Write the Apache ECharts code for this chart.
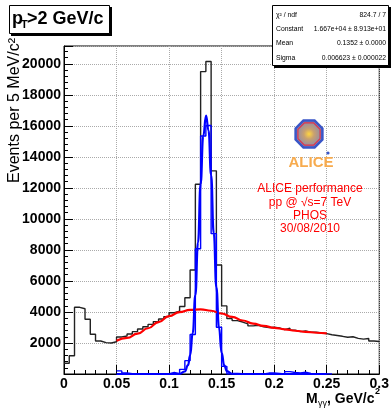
<!DOCTYPE html>
<html>
<head>
<meta charset="utf-8">
<script src="https://cdn.jsdelivr.net/npm/echarts@6/dist/echarts.min.js"></script>
<style>
  html, body { margin: 0; padding: 0; background: #fff; }
  #chart { width: 392px; height: 410px; }
</style>
</head>
<body>
<div id="chart"></div>
<script>
// histogram binning (GeV/c^2)
const binStart = 0
const binWidth = 0.005

// black: all pairs, 60 bins from 0 to 0.3
const dataCounts = [
  690, 1180, 4300, 4210, 3530, 2560, 2130, 2020, 2000, 2080,
  2390, 2450, 2580, 2730, 2900, 3050, 3200, 3380, 3550, 3700,
  3950, 4050, 4350, 4920, 6710, 12240, 19500, 20150, 13100, 7030,
  4390, 3570, 3440, 3350, 3230, 3100, 3140, 3050, 2990, 3010,
  2970, 2860, 2950, 2820, 2730, 2770, 2700, 2690, 2640, 2600,
  2530, 2480, 2430, 2370, 2400, 2300, 2250, 2290, 2130, 2100
]

// blue: background subtracted, bins 10..50
const signalFirstBin = 10
const signalCounts = [
  200, 70, 20, 0, 0, 0, 0, 0, 0, 0,
  110, 0, 300, 860, 2550, 8080, 15350, 16020, 9050, 3010,
  490, 0, 0, 0, 0, 0, 0, 0, 60, 60,
  40, 0, 150, 100, 70, 110, 40, 20, 0, 0,
  0
]

// red background fit curve
const bgX = [0.05, 0.06, 0.07, 0.08, 0.09, 0.10, 0.11, 0.12, 0.13, 0.14, 0.15,
             0.16, 0.17, 0.18, 0.19, 0.20, 0.21, 0.22, 0.23, 0.24, 0.25]
const bgY = [2150, 2330, 2600, 2950, 3350, 3730, 3990, 4140, 4170, 4080, 3900,
             3680, 3450, 3250, 3100, 2980, 2880, 2790, 2720, 2660, 2620]

// blue gaussian fit curve
const gausX = [0.05, 0.10, 0.11, 0.115, 0.118, 0.12, 0.1225, 0.125, 0.1275, 0.13, 0.1325,
               0.1352, 0.1375, 0.14, 0.1425, 0.145, 0.1475, 0.15, 0.1525, 0.155, 0.16, 0.17, 0.25]
const gausY = [0, 0, 12, 160, 570, 1200, 2650, 5090, 8480, 12250, 15340,
               16670, 15700, 12820, 9080, 5580, 2970, 1370, 550, 190, 15, 0, 0]

const fitStats = [
  ['\u03c7\u00b2 / ndf', '824.7 / 7'],
  ['Constant', '1.667e+04 \u00b1 8.913e+01'],
  ['Mean', '0.1352 \u00b1 0.0000'],
  ['Sigma', '0.006623 \u00b1 0.000022']
]
const infoLines = ['ALICE performance', 'pp @ \u221as=7 TeV', 'PHOS', '30/08/2010']

const FONT = '"Liberation Sans", Arial, Helvetica, sans-serif'

function histPoints(first, counts) {
  const pts = []
  counts.forEach((c, i) => {
    pts.push([binStart + (first + i) * binWidth, c])
  })
  // close the last bin
  pts.push([binStart + (first + counts.length) * binWidth, counts[counts.length - 1]])
  return pts
}

function zip(xs, ys) {
  return xs.map((x, i) => [x, ys[i]])
}

function octagon(cx, cy, r) {
  const pts = []
  for (let i = 0; i < 8; i++) {
    const a = Math.PI / 8 + i * Math.PI / 4
    pts.push([cx + r * Math.cos(a), cy + r * Math.sin(a)])
  }
  return pts
}

const statsGraphics = [
  {
    type: 'rect', z: 100,
    shape: { x: 274, y: 7, width: 117, height: 61 },
    style: { fill: '#000' }
  },
  {
    type: 'rect', z: 101,
    shape: { x: 272.5, y: 5.5, width: 116, height: 60 },
    style: { fill: '#fff', stroke: '#000', lineWidth: 1 }
  }
]
fitStats.forEach((row, i) => {
  const y = 15 + i * 14.3
  statsGraphics.push({
    type: 'text', z: 102, x: 276, y: y,
    style: { text: row[0], fill: '#000', fontSize: 6.8, fontFamily: FONT, align: 'left', verticalAlign: 'middle' }
  })
  statsGraphics.push({
    type: 'text', z: 102, x: 386, y: y,
    style: { text: row[1], fill: '#000', fontSize: 6.8, fontFamily: FONT, align: 'right', verticalAlign: 'middle' }
  })
})

const infoGraphics = infoLines.map((t, i) => ({
  type: 'text', z: 90, x: 310, y: 189 + i * 13.3,
  style: { text: t, fill: '#ff0000', fontSize: 12, fontFamily: FONT, align: 'center', verticalAlign: 'middle' }
}))

const logoGraphics = [
  {
    type: 'polygon', z: 90,
    shape: { points: octagon(309, 134, 14.5) },
    style: {
      fill: {
        type: 'radial', x: 0.5, y: 0.5, r: 0.5,
        colorStops: [
          { offset: 0, color: '#ffd640' },
          { offset: 0.35, color: '#c8a070' },
          { offset: 1, color: '#7f86b8' }
        ]
      },
      stroke: '#3a56c8', lineWidth: 2.5
    }
  },
  {
    type: 'polygon', z: 91,
    shape: { points: octagon(309, 134, 12) },
    style: { fill: 'none', stroke: '#e0304a', lineWidth: 1.2 }
  },
  {
    type: 'text', z: 90, x: 311, y: 163,
    style: { text: 'ALICE', fill: '#f7ab4e', fontSize: 15, fontWeight: 'bold', fontFamily: FONT, align: 'center', verticalAlign: 'middle' }
  },
  {
    type: 'circle', z: 90,
    shape: { cx: 328, cy: 153, r: 1.6 },
    style: { fill: '#3a56c8' }
  }
]

const titleGraphics = [
  {
    type: 'rect', z: 100,
    shape: { x: 11, y: 7, width: 101, height: 29 },
    style: { fill: '#000' }
  },
  {
    type: 'rect', z: 101,
    shape: { x: 9.5, y: 5.5, width: 100, height: 28 },
    style: { fill: '#fff', stroke: '#000', lineWidth: 1 }
  },
  {
    type: 'text', z: 102, x: 12, y: 19,
    style: { text: 'p', fill: '#000', fontSize: 18, fontWeight: 'bold', fontFamily: FONT, verticalAlign: 'middle' }
  },
  {
    type: 'text', z: 102, x: 21, y: 25,
    style: { text: 'T', fill: '#000', fontSize: 11, fontWeight: 'bold', fontFamily: FONT, verticalAlign: 'middle' }
  },
  {
    type: 'text', z: 102, x: 27, y: 19,
    style: { text: '>2 GeV/c', fill: '#000', fontSize: 18, fontWeight: 'bold', fontFamily: FONT, verticalAlign: 'middle' }
  }
]

const axisNameGraphics = [
  {
    type: 'text', z: 90, x: 15, y: 38, rotation: Math.PI / 2,
    style: { text: 'Events per 5 MeV/c\u00b2', fill: '#000', fontSize: 16, fontFamily: FONT, align: 'right', verticalAlign: 'middle' }
  },
  {
    type: 'text', z: 90, x: 306, y: 399,
    style: { text: 'M', fill: '#000', fontSize: 14, fontWeight: 'bold', fontFamily: FONT, verticalAlign: 'middle' }
  },
  {
    type: 'text', z: 90, x: 318, y: 404,
    style: { text: '\u03b3\u03b3', fill: '#000', fontSize: 9, fontFamily: FONT, verticalAlign: 'middle' }
  },
  {
    type: 'text', z: 90, x: 327, y: 399,
    style: { text: ', GeV/c', fill: '#000', fontSize: 14, fontWeight: 'bold', fontFamily: FONT, verticalAlign: 'middle' }
  },
  {
    type: 'text', z: 90, x: 375, y: 392,
    style: { text: '2', fill: '#000', fontSize: 9, fontWeight: 'bold', fontFamily: FONT, verticalAlign: 'middle' }
  }
]

const chart = echarts.init(document.getElementById('chart'), null, { renderer: 'canvas' })

chart.setOption({
  animation: false,
  backgroundColor: '#fff',
  grid: {
    left: 64, right: 11, top: 46, bottom: 36,
    show: true, borderColor: '#000', borderWidth: 1, backgroundColor: 'transparent'
  },
  xAxis: {
    type: 'value',
    min: 0, max: 0.3, interval: 0.05,
    axisLine: { lineStyle: { color: '#000', width: 1 } },
    axisTick: { inside: true, length: 9, lineStyle: { color: '#000' } },
    minorTick: { show: true, splitNumber: 5, length: 4, lineStyle: { color: '#000' } },
    splitLine: { show: true, lineStyle: { color: '#aaa', type: 'dotted', width: 1 } },
    axisLabel: {
      color: '#000', fontSize: 14, fontWeight: 'bold', fontFamily: FONT, margin: 3,
      showMinLabel: true, showMaxLabel: true
    }
  },
  yAxis: {
    type: 'value',
    min: 0, max: 21150, interval: 2000,
    axisLine: { show: true, lineStyle: { color: '#000', width: 1 } },
    axisTick: { show: true, inside: true, length: 9, lineStyle: { color: '#000' } },
    minorTick: { show: true, splitNumber: 5, length: 4, lineStyle: { color: '#000' } },
    splitLine: { show: true, lineStyle: { color: '#aaa', type: 'dotted', width: 1 } },
    axisLabel: {
      color: '#000', fontSize: 14, fontWeight: 'bold', fontFamily: FONT, margin: 3,
      formatter: v => (v === 0 || v % 2000 !== 0) ? '' : String(v)
    }
  },
  series: [
    {
      name: 'data',
      type: 'line',
      step: 'end',
      symbol: 'none',
      z: 3,
      lineStyle: { color: '#222', width: 1.4 },
      data: histPoints(0, dataCounts)
    },
    {
      name: 'signal',
      type: 'line',
      step: 'end',
      symbol: 'none',
      z: 4,
      lineStyle: { color: '#0000ff', width: 1.4 },
      data: histPoints(signalFirstBin, signalCounts)
    },
    {
      name: 'background fit',
      type: 'line',
      smooth: true,
      smoothMonotone: 'x',
      symbol: 'none',
      z: 5,
      lineStyle: { color: '#ff0000', width: 2.2 },
      data: zip(bgX, bgY)
    },
    {
      name: 'gaus fit',
      type: 'line',
      smooth: true,
      smoothMonotone: 'x',
      symbol: 'none',
      z: 6,
      lineStyle: { color: '#0000ff', width: 2.2 },
      data: zip(gausX, gausY)
    }
  ],
  graphic: [].concat(statsGraphics, infoGraphics, logoGraphics, titleGraphics, axisNameGraphics)
})
</script>
</body>
</html>
